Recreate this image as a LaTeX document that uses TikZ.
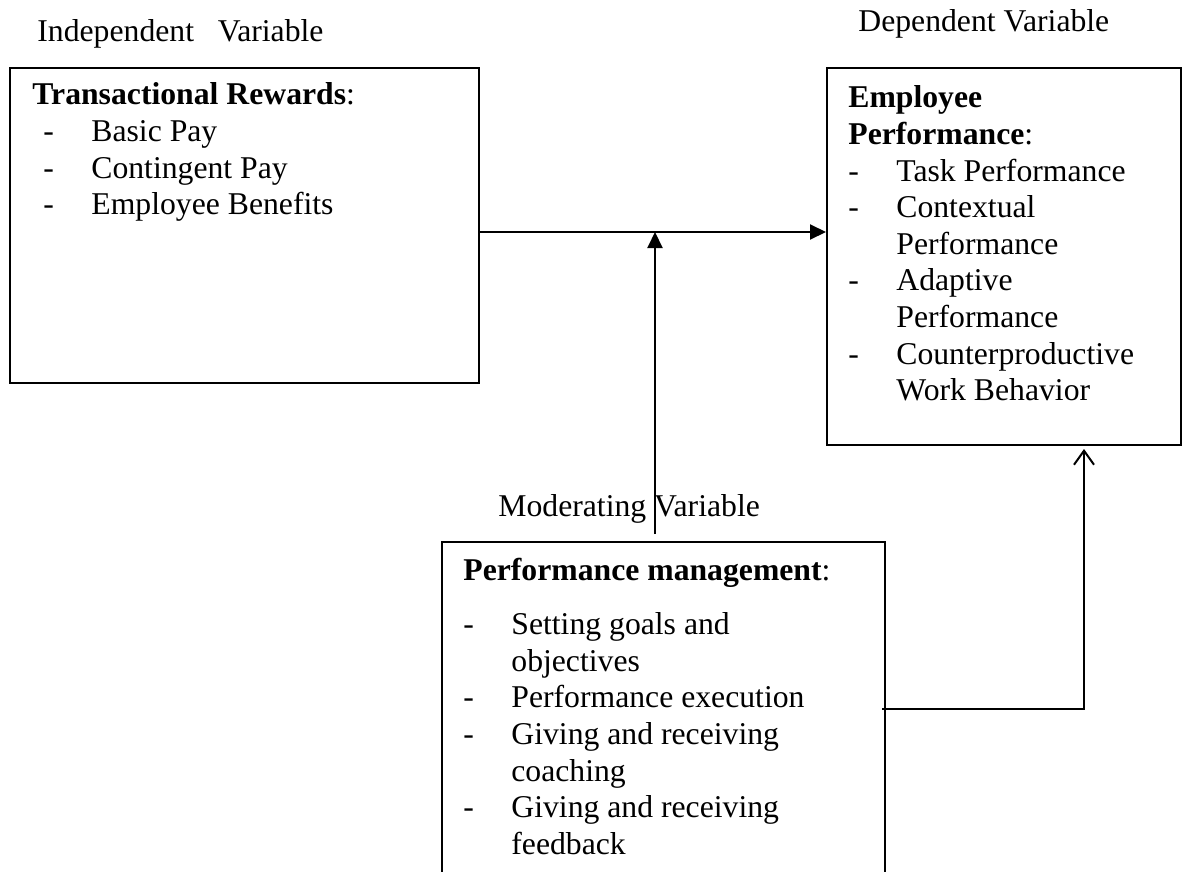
\documentclass[tikz,border=0pt]{standalone}
\usepackage{fontspec}
\setmainfont{Liberation Serif}
\usepackage{tikz}
\usetikzlibrary{positioning,calc,arrows.meta}

\newcommand{\itemdash}{\makebox[24pt][l]{-}}
\newcommand{\itemgap}{\hspace*{24pt}}

\begin{document}
\begin{tikzpicture}[
                x=0.5pt, y=-0.5pt,
                box/.style={draw, line width=1pt, rectangle, inner sep=0pt},
                label_text/.style={anchor=base west, inner sep=0pt, font=\fontsize{15.85}{18.3}\selectfont},
                arrow_filled/.style={draw, line width=1pt, -{Triangle[length=8pt,width=7.5pt]}},
                arrow_open/.style={draw, line width=0.9pt, -{Straight Barb[length=7pt,width=10pt,line width=1pt]}}
            ]
                \useasboundingbox (0,0) rectangle (1184,872);
                \clip (0,0) rectangle (1184,872);

                % --- KHUNG ---
                \node[box, minimum width=234.5pt, minimum height=157.5pt] (trw) at (244.5,225.5) {};
                \node[box, minimum width=177pt, minimum height=188.5pt] (emp) at (1004,256.5) {};
                \node[box, minimum width=221.5pt, minimum height=180pt] (pm) at (663.5,722) {};

                % --- NHAN ---
                \node[label_text] (indep) at (37,42) {Independent\ \ \ Variable};
                \node[label_text] (dep) at (858,32) {Dependent Variable};
                \node[label_text] (mod) at (498,516) {Moderating Variable};

                % --- NOI DUNG ---
                \node[label_text] (trw_text) at (32,105) {\begin{tabular}[t]{@{}l@{}}
                    \textbf{Transactional Rewards}:\\
                    \hspace*{5.5pt}\itemdash Basic Pay\\
                    \hspace*{5.5pt}\itemdash Contingent Pay\\
                    \hspace*{5.5pt}\itemdash Employee Benefits
                \end{tabular}};
                \node[label_text] (emp_text) at (848,108) {\begin{tabular}[t]{@{}l@{}}
                    \textbf{Employee}\\
                    \textbf{Performance}:\\
                    \itemdash Task Performance\\
                    \itemdash Contextual\\
                    \itemgap Performance\\
                    \itemdash Adaptive\\
                    \itemgap Performance\\
                    \itemdash Counterproductive\\
                    \itemgap Work Behavior
                \end{tabular}};
                \node[label_text] (pm_text) at (463,580) {\begin{tabular}[t]{@{}l@{}}
                    \textbf{Performance management}:\\[9pt]
                    \itemdash Setting goals and\\
                    \itemgap objectives\\
                    \itemdash Performance execution\\
                    \itemdash Giving and receiving\\
                    \itemgap coaching\\
                    \itemdash Giving and receiving\\
                    \itemgap feedback
                \end{tabular}};

                % --- MUI TEN ---
                \coordinate (j) at (655,232);
                \coordinate (k) at (1084,709);
                \draw[arrow_filled] (trw.east |- j) -- (emp.west |- j);
                \draw[arrow_filled] ([yshift=3.5pt]pm.north -| j) -- (j);
                \draw[arrow_open] ([xshift=-2pt]pm.east |- k) -- (k) -- ([yshift=-1.5pt]emp.south -| k);

            \end{tikzpicture}
\end{document}
